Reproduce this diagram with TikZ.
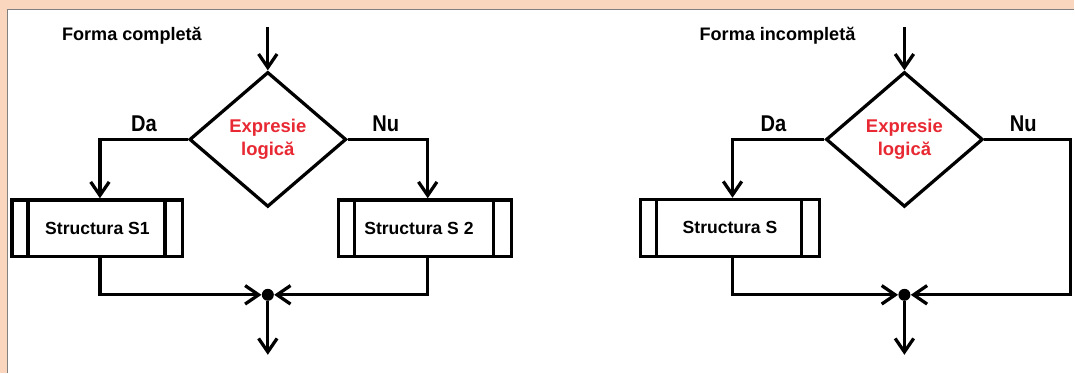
\documentclass[tikz,border=0pt]{standalone}
\usepackage{fontspec}
\setmainfont{Liberation Sans}
\usetikzlibrary{positioning}
\usetikzlibrary{shapes.geometric}
\usetikzlibrary{arrows.meta}

\definecolor{peach}{RGB}{250,214,190}
\definecolor{exprred}{RGB}{232,40,50}

\tikzset{
  flow/.style={line width=1.85pt},
  arr/.style={flow, -{Straight Barb[length=2.7mm,width=3.7mm,line width=1.85pt]}},
  decision/.style={diamond, draw, flow, inner sep=0pt, minimum width=3.14cm,
    minimum height=2.7cm, align=center, text=exprred,
    font=\bfseries\fontsize{10.5}{13}\selectfont},
  subbox/.style={rectangle, draw, flow, minimum height=1.14cm,
    font=\bfseries\fontsize{10}{12}\selectfont,
    path picture={
      \draw[flow] ([xshift=0.32cm]path picture bounding box.north west) -- ([xshift=0.32cm]path picture bounding box.south west);
      \draw[flow] ([xshift=-0.36cm]path picture bounding box.north east) -- ([xshift=-0.36cm]path picture bounding box.south east);
    }},
  branch/.style={font=\bfseries\fontsize{13}{14}\selectfont, xscale=0.88},
  title/.style={font=\bfseries\fontsize{10.3}{12}\selectfont},
  junction/.style={circle, fill, inner sep=0pt, minimum size=0.24cm}
}

\begin{document}
\begin{tikzpicture}[x=0.02cm, y=-0.02cm]
%background
\fill[peach] (0,0) rectangle (1075,373);
\fill[white] (7.5,9.5) rectangle (1075,373);
\draw[gray, line width=0.8pt] (7.5,373) -- (7.5,9.5) -- (1075,9.5);
\useasboundingbox (0,0) rectangle (1075,373);

%forma completa
\node[title] (t1) at (132,36) {Forma completă};
\coordinate (in1) at (268,27);
\node[decision] (d1) at (268,139.5) {Expresie\\logică};
\node[subbox, minimum width=3.42cm] (s1) at (97.5,228.5) {Structura S1};
\node[subbox, minimum width=3.46cm] (s2) at (425.5,228.5) {\hspace*{-0.25cm}Structura S 2};
\node[junction] (j1) at (268,295) {};
\coordinate (out1) at (268,355);
\node[branch] (da1) at (144,124) {Da};
\node[branch] (nu1) at (386,124) {Nu};
%connectors
\draw[arr] (in1) -- (d1.north);
\draw[arr] (d1.west) -| (s1.north -| 100,0);
\draw[arr] (d1.east) -| (s2.north -| 428,0);
\draw[arr] (s1.south -| 100,0) |- (j1.west);
\draw[arr] (s2.south -| 428,0) |- (j1.east);
\draw[arr] (j1) -- (out1);

%forma incompleta
\node[title] (t2) at (778,36) {Forma incompletă};
\coordinate (in2) at (905,27);
\node[decision] (d2) at (905,139.5) {Expresie\\logică};
\node[subbox, minimum width=3.58cm] (s3) at (730.5,228) {Structura S};
\node[junction] (j2) at (905,295) {};
\coordinate (out2) at (905,355);
\coordinate (nu2c) at (1071,295);
\node[branch] (da2) at (774,124) {Da};
\node[branch] (nu2) at (1024,124) {Nu};
%connectors
\draw[arr] (in2) -- (d2.north);
\draw[arr] (d2.west) -| (s3.north -| 733,0);
\draw[arr] (d2.east) -| (nu2c) -- (j2.east);
\draw[arr] (s3.south -| 733,0) |- (j2.west);
\draw[arr] (j2) -- (out2);

\end{tikzpicture}
\end{document}
